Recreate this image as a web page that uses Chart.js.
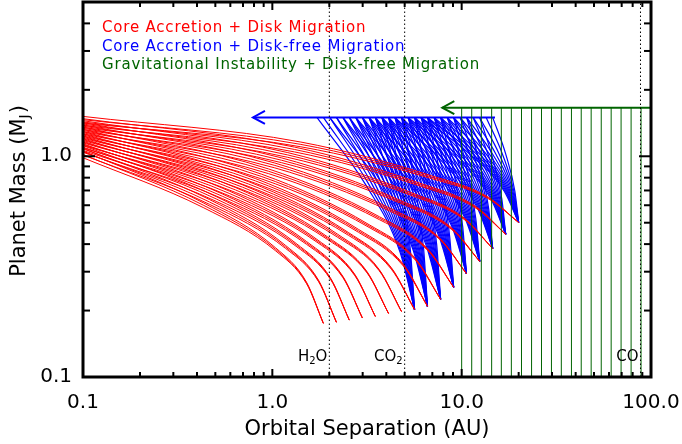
<!DOCTYPE html>
<html>
<head>
<meta charset="utf-8">
<script src="https://cdn.jsdelivr.net/npm/chart.js@4.4.1/dist/chart.umd.min.js"></script>
<style>
  html, body { margin: 0; padding: 0; background: #fff; }
  #wrap { width: 682px; height: 444px; }
</style>
</head>
<body>
<div id="wrap"><canvas id="chart" width="682" height="444"></canvas></div>
<script>
// axes
const xMin = 0.1, xMax = 100;
const yMin = 0.1, yMax = 5;
const xMajorTicks = [0.1, 1, 10, 100];
const xMinorTicks = [0.2, 0.3, 0.4, 0.5, 0.6, 0.7, 0.8, 0.9, 2, 3, 4, 5, 6, 7, 8, 9, 20, 30, 40, 50, 60, 70, 80, 90];
const yMajorTicks = [0.1, 1];
const yMinorTicks = [0.2, 0.3, 0.4, 0.5, 0.6, 0.7, 0.8, 0.9, 2, 3, 4];

const RED = 'rgb(255,0,0)', BLUE = 'rgb(0,0,255)', GREEN = 'rgb(0,100,0)';

const legendLabels = ['Core Accretion + Disk Migration', 'Core Accretion + Disk-free Migration', 'Gravitational Instability + Disk-free Migration'];
const legendColors = [RED, BLUE, GREEN];

// snow lines (AU) and their labels, [text, isSubscript]
const snowLineX = [2, 5, 88];
const snowLabels = [[['H', 0], ['2', 1], ['O', 0]], [['CO', 0], ['2', 1]], [['CO', 0]]];
const snowLabelM = 0.118;

// core accretion + disk migration: formation sites (tips) and 3 tracks each
const redTipX = [1.86, 2.18, 2.55, 2.99, 3.50, 4.11, 4.81, 5.64, 6.60, 7.74, 9.07, 10.6, 12.45, 14.58, 17.09, 20.0];
const redTipM = [0.175, 0.177, 0.181, 0.185, 0.188, 0.194, 0.198, 0.202, 0.209, 0.225, 0.255, 0.294, 0.334, 0.382, 0.443, 0.501];
const redInnerX = 0.1;
const redSampleX = [
  [0.431, 1.036, 1.515], [0.467, 1.177, 1.756], [0.505, 1.335, 2.034], [0.547, 1.516, 2.358],
  [0.592, 1.721, 2.733], [0.641, 1.953, 3.166], [0.694, 2.217, 3.668], [0.751, 2.517, 4.251],
  [0.813, 2.857, 4.926], [0.880, 3.243, 5.706], [0.952, 3.681, 6.612], [1.031, 4.178, 7.662],
  [1.116, 4.742, 8.880], [1.207, 5.383, 10.29], [1.307, 6.111, 11.92], [1.415, 6.936, 13.81]
];
// masses at [0.1 AU, sample1, sample2, sample3] for each track
const redTrackM = [
  [[0.985, 0.586, 0.374, 0.265], [1.02, 0.601, 0.380, 0.267], [1.056, 0.616, 0.386, 0.269]],
  [[1.014, 0.605, 0.382, 0.270], [1.05, 0.620, 0.388, 0.272], [1.087, 0.636, 0.394, 0.274]],
  [[1.043, 0.625, 0.391, 0.276], [1.08, 0.641, 0.397, 0.278], [1.118, 0.657, 0.403, 0.280]],
  [[1.063, 0.642, 0.399, 0.282], [1.10, 0.658, 0.405, 0.284], [1.139, 0.674, 0.411, 0.286]],
  [[1.092, 0.662, 0.408, 0.287], [1.13, 0.679, 0.414, 0.289], [1.170, 0.696, 0.420, 0.291]],
  [[1.121, 0.685, 0.420, 0.296], [1.16, 0.703, 0.426, 0.298], [1.201, 0.721, 0.432, 0.300]],
  [[1.150, 0.707, 0.429, 0.303], [1.19, 0.725, 0.436, 0.305], [1.232, 0.743, 0.443, 0.307]],
  [[1.179, 0.729, 0.439, 0.308], [1.22, 0.748, 0.446, 0.311], [1.263, 0.767, 0.452, 0.313]],
  [[1.208, 0.755, 0.452, 0.318], [1.25, 0.774, 0.459, 0.321], [1.294, 0.793, 0.466, 0.324]],
  [[1.236, 0.789, 0.476, 0.338], [1.28, 0.809, 0.483, 0.341], [1.325, 0.829, 0.490, 0.344]],
  [[1.265, 0.835, 0.516, 0.375], [1.31, 0.856, 0.524, 0.378], [1.356, 0.877, 0.532, 0.381]],
  [[1.294, 0.886, 0.564, 0.420], [1.34, 0.909, 0.573, 0.423], [1.387, 0.932, 0.582, 0.426]],
  [[1.323, 0.936, 0.613, 0.465], [1.37, 0.960, 0.622, 0.469], [1.418, 0.984, 0.631, 0.473]],
  [[1.352, 0.989, 0.666, 0.518], [1.40, 1.014, 0.676, 0.522], [1.449, 1.039, 0.686, 0.526]],
  [[1.381, 1.047, 0.730, 0.581], [1.43, 1.074, 0.741, 0.586], [1.480, 1.101, 0.752, 0.591]],
  [[1.415, 1.104, 0.792, 0.643], [1.465, 1.132, 0.804, 0.648], [1.516, 1.160, 0.816, 0.653]]
];

// core accretion + disk-free migration: 9 fans of tracks that stop growing at 1.5 MJ
const blueTipX = [5.64, 6.60, 7.74, 9.07, 10.6, 12.45, 14.58, 17.09, 20.0];
const blueTipM = [0.202, 0.209, 0.225, 0.255, 0.294, 0.334, 0.382, 0.443, 0.501];
const blueLowerM = [0.369, 0.378, 0.398, 0.434, 0.479, 0.524, 0.576, 0.639, 0.696];
const blueUpperM = [0.744, 0.752, 0.772, 0.807, 0.848, 0.887, 0.929, 0.979, 1.022];
const blueTopM = 1.5;
// per track: [x at 1.5 MJ, x at upper mass, x at lower mass]
const blueTrackX = [
  [[4.11, 4.81, 5.37], [3.79, 4.62, 5.31], [3.50, 4.44, 5.25], [3.24, 4.27, 5.19], [2.99, 4.11, 5.13], [2.76, 3.95, 5.07], [2.55, 3.79, 5.01], [2.36, 3.65, 4.95], [2.18, 3.50, 4.89], [2.01, 3.37, 4.83], [1.86, 3.24, 4.77], [1.72, 3.11, 4.72]],
  [[4.81, 5.64, 6.30], [4.44, 5.42, 6.22], [4.11, 5.21, 6.15], [3.79, 5.00, 6.08], [3.50, 4.81, 6.00], [3.24, 4.62, 5.93], [2.99, 4.44, 5.86], [2.76, 4.27, 5.79], [2.55, 4.11, 5.73], [2.36, 3.95, 5.66], [2.18, 3.79, 5.59], [2.01, 3.65, 5.53]],
  [[5.64, 6.60, 7.38], [5.21, 6.35, 7.29], [4.81, 6.10, 7.21], [4.44, 5.86, 7.12], [4.11, 5.64, 7.04], [3.79, 5.42, 6.95], [3.50, 5.21, 6.87], [3.24, 5.00, 6.79], [2.99, 4.81, 6.71], [2.76, 4.62, 6.63], [2.55, 4.44, 6.55], [2.36, 4.27, 6.47]],
  [[6.60, 7.74, 8.64], [6.10, 7.44, 8.54], [5.64, 7.15, 8.44], [5.21, 6.87, 8.34], [4.81, 6.60, 8.24], [4.44, 6.35, 8.15], [4.11, 6.10, 8.05], [3.79, 5.86, 7.96], [3.50, 5.64, 7.86], [3.24, 5.42, 7.77], [2.99, 5.21, 7.68], [2.76, 5.00, 7.59]],
  [[7.74, 9.07, 10.13], [7.15, 8.71, 10.01], [6.60, 8.38, 9.89], [6.10, 8.05, 9.77], [5.64, 7.74, 9.66], [5.21, 7.44, 9.54], [4.81, 7.15, 9.43], [4.44, 6.87, 9.32], [4.11, 6.60, 9.21], [3.79, 6.35, 9.10], [3.50, 6.10, 8.99], [3.24, 5.86, 8.89]],
  [[9.07, 10.62, 11.87], [8.38, 10.21, 11.73], [7.74, 9.81, 11.59], [7.15, 9.43, 11.46], [6.60, 9.07, 11.32], [6.10, 8.71, 11.19], [5.64, 8.38, 11.06], [5.21, 8.05, 10.93], [4.81, 7.74, 10.80], [4.44, 7.44, 10.67], [4.11, 7.15, 10.54], [3.79, 6.87, 10.42]],
  [[10.62, 12.45, 13.90], [9.81, 11.96, 13.74], [9.07, 11.50, 13.58], [8.38, 11.05, 13.42], [7.74, 10.62, 13.26], [7.15, 10.21, 13.10], [6.60, 9.81, 12.95], [6.10, 9.43, 12.79], [5.64, 9.07, 12.64], [5.21, 8.71, 12.50], [4.81, 8.38, 12.35], [4.44, 8.05, 12.20]],
  [[12.45, 14.58, 16.30], [11.50, 14.02, 16.10], [10.62, 13.47, 15.91], [9.81, 12.95, 15.73], [9.07, 12.45, 15.54], [8.38, 11.96, 15.36], [7.74, 11.50, 15.18], [7.15, 11.05, 15.00], [6.60, 10.62, 14.82], [6.10, 10.21, 14.65], [5.64, 9.81, 14.47], [5.21, 9.43, 14.30]],
  [[14.58, 17.09, 19.09], [13.47, 16.42, 18.87], [12.45, 15.79, 18.64], [11.50, 15.17, 18.42], [10.62, 14.58, 18.20], [9.81, 14.02, 17.99], [9.07, 13.47, 17.78], [8.38, 12.95, 17.57], [7.74, 12.45, 17.36], [7.15, 11.96, 17.16], [6.60, 11.50, 16.95], [6.10, 11.05, 16.75]]
];
const blueArrowX = [0.79, 15];

// gravitational instability: planets form at fixed sites, then scatter inward
const greenX = [10, 11.3, 12.7, 14.4, 16.2, 18.3, 20.7, 23.4, 26.4, 29.8, 33.6, 38.0, 42.8, 48.3, 54.6, 61.6, 69.5, 78.5, 88.6, 100];
const greenTopM = 1.66;
const greenArrowX = [7.9, 100];

// ---- build datasets ----
const datasets = [];
snowLineX.forEach(x => {
  datasets.push({ data: [{ x: x, y: yMin }, { x: x, y: yMax }], borderColor: '#000', borderWidth: 1, borderDash: [1.5, 2.5], order: 0 });
});
greenX.forEach(x => {
  datasets.push({ data: [{ x: x, y: yMin }, { x: x, y: greenTopM }], borderColor: GREEN, borderWidth: 1, order: 1 });
});
datasets.push({ data: [{ x: greenArrowX[0], y: greenTopM }, { x: greenArrowX[1], y: greenTopM }], borderColor: GREEN, borderWidth: 2, order: 1 });
datasets.push({ data: [{ x: blueArrowX[0], y: blueTopM }, { x: blueArrowX[1], y: blueTopM }], borderColor: BLUE, borderWidth: 2, order: 1 });

redTipX.forEach((tipX, i) => {
  redTrackM[i].forEach(ms => {
    const pts = [{ x: redInnerX, y: ms[0] }];
    redSampleX[i].forEach((sx, k) => pts.push({ x: sx, y: ms[k + 1] }));
    pts.push({ x: tipX, y: redTipM[i] });
    datasets.push({ data: pts, borderColor: RED, borderWidth: 1, cubicInterpolationMode: 'monotone', order: 2 });
  });
});

blueTipX.forEach((tipX, f) => {
  blueTrackX[f].forEach(xs => {
    datasets.push({
      data: [
        { x: xs[0], y: blueTopM },
        { x: xs[1], y: blueUpperM[f] },
        { x: xs[2], y: blueLowerM[f] },
        { x: tipX, y: blueTipM[f] }
      ],
      borderColor: BLUE, borderWidth: 1.2, cubicInterpolationMode: 'monotone', order: 3
    });
  });
});

// ---- plugins ----
const FONT = '"DejaVu Sans", sans-serif';
const decorations = {
  id: 'decorations',
  afterDatasetsDraw(chart) {
    const { ctx, chartArea: a, scales } = chart;
    const sx = scales.x, sy = scales.y;
    ctx.save();

    // arrow heads
    [[blueArrowX[0], blueTopM, BLUE], [greenArrowX[0], greenTopM, GREEN]].forEach(([x, m, c]) => {
      const px = sx.getPixelForValue(x), py = sy.getPixelForValue(m);
      ctx.strokeStyle = c; ctx.lineWidth = 2;
      ctx.beginPath();
      ctx.moveTo(px + 12, py - 6.5); ctx.lineTo(px, py); ctx.lineTo(px + 12, py + 6.5);
      ctx.stroke();
    });

    // snow line labels
    ctx.fillStyle = '#000';
    ctx.textBaseline = 'alphabetic';
    const ly = sy.getPixelForValue(snowLabelM);
    snowLabels.forEach((segs, i) => {
      let w = 0;
      segs.forEach(([t, sub]) => { ctx.font = (sub ? '10px ' : '15px ') + FONT; w += ctx.measureText(t).width; });
      let px = sx.getPixelForValue(snowLineX[i]) - 2 - w;
      segs.forEach(([t, sub]) => {
        ctx.font = (sub ? '10px ' : '15px ') + FONT;
        ctx.fillText(t, px, ly + (sub ? 3 : 0));
        px += ctx.measureText(t).width;
      });
    });

    // inward ticks on all four sides
    ctx.strokeStyle = '#000';
    ctx.lineWidth = 2;
    const seg = (x1, y1, x2, y2) => { ctx.beginPath(); ctx.moveTo(x1, y1); ctx.lineTo(x2, y2); ctx.stroke(); };
    const xt = (list, len) => list.forEach(v => { const p = sx.getPixelForValue(v); seg(p, a.bottom, p, a.bottom - len); seg(p, a.top, p, a.top + len); });
    const yt = (list, len) => list.forEach(v => { const p = sy.getPixelForValue(v); seg(a.left, p, a.left + len, p); seg(a.right, p, a.right - len, p); });
    xt(xMajorTicks, 8); xt(xMinorTicks, 5);
    yt(yMajorTicks, 12); yt(yMinorTicks, 7);

    ctx.lineWidth = 3;
    ctx.strokeRect(a.left, a.top, a.right - a.left, a.bottom - a.top);

    // tick labels
    ctx.font = '20px ' + FONT;
    ctx.textBaseline = 'middle';
    ctx.textAlign = 'center';
    xMajorTicks.forEach(v => ctx.fillText(v.toFixed(1), sx.getPixelForValue(v), a.bottom + 26));
    ctx.textAlign = 'right';
    yMajorTicks.forEach(v => ctx.fillText(v.toFixed(1), a.left - 11, sy.getPixelForValue(v)));
    ctx.restore();
  },
  afterDraw(chart) {
    const ctx = chart.ctx;
    ctx.save();
    // legend text
    ctx.font = '15px ' + FONT;
    ctx.textBaseline = 'alphabetic';
    ctx.letterSpacing = '0.8px';
    legendLabels.forEach((t, i) => {
      ctx.fillStyle = legendColors[i];
      ctx.fillText(t, 102, 31.7 + i * 18.8);
    });
    ctx.letterSpacing = '0px';

    // y axis title with subscript
    ctx.fillStyle = '#000';
    ctx.translate(25, 191);
    ctx.rotate(-Math.PI / 2);
    const big = '21px ' + FONT, small = '14px ' + FONT;
    ctx.font = big;
    const w1 = ctx.measureText('Planet Mass (M').width, w3 = ctx.measureText(')').width;
    ctx.font = small;
    const w2 = ctx.measureText('J').width + 1;
    const x0 = -(w1 + w2 + w3) / 2;
    ctx.font = big; ctx.fillText('Planet Mass (M', x0, 0);
    ctx.font = small; ctx.fillText('J', x0 + w1, 4);
    ctx.font = big; ctx.fillText(')', x0 + w1 + w2, 0);
    ctx.restore();
  }
};

Chart.defaults.font.family = FONT;
Chart.defaults.color = '#000';

new Chart(document.getElementById('chart'), {
  type: 'line',
  data: { datasets },
  options: {
    responsive: false,
    animation: false,
    devicePixelRatio: 1,
    layout: { padding: { top: 2, right: 31, bottom: 0, left: 0 } },
    elements: { point: { radius: 0 } },
    plugins: { legend: { display: false }, tooltip: { enabled: false } },
    scales: {
      x: {
        type: 'logarithmic', min: xMin, max: xMax,
        grid: { display: false, drawTicks: false },
        border: { display: false },
        afterFit: s => { s.height = 67; },
        ticks: { display: false },
        title: { display: true, text: 'Orbital Separation (AU)', font: { size: 21 }, color: '#000', padding: { top: 0, bottom: 2 } }
      },
      y: {
        type: 'logarithmic', min: yMin, max: yMax,
        grid: { display: false, drawTicks: false },
        border: { display: false },
        afterFit: s => { s.width = 83; },
        ticks: { display: false }
      }
    }
  },
  plugins: [decorations]
});
</script>
</body>
</html>
